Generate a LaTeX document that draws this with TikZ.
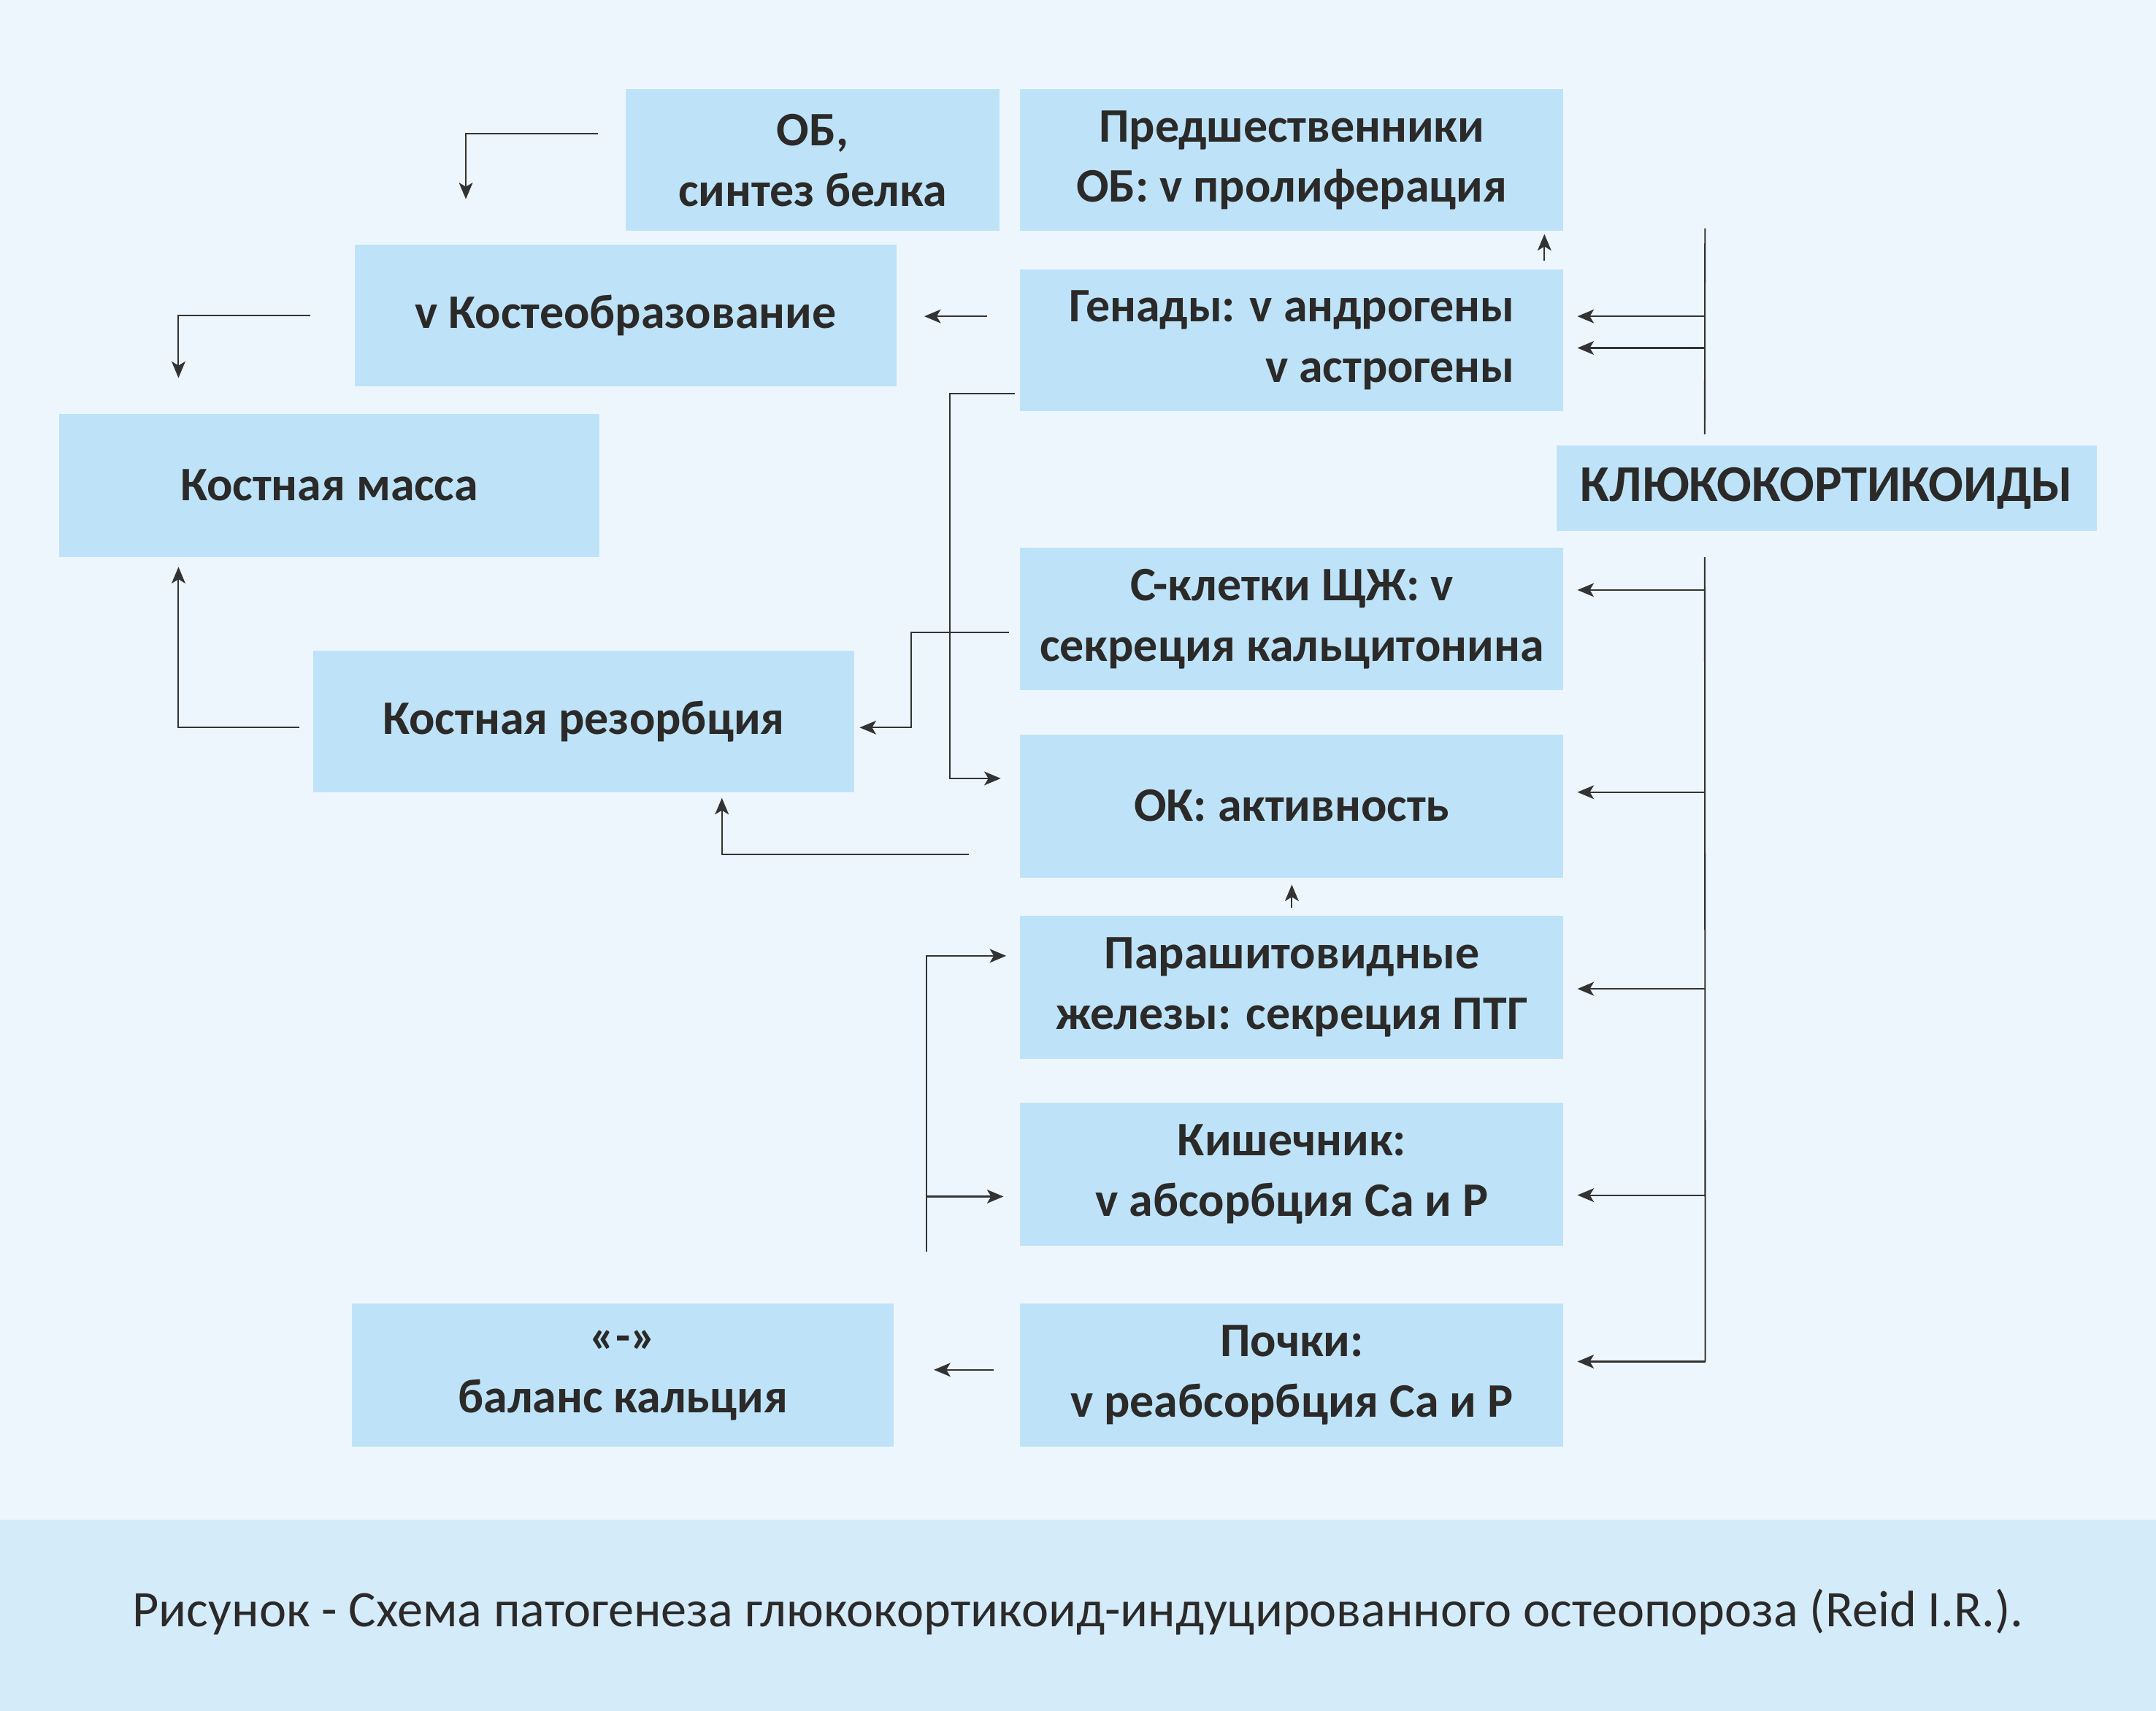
\documentclass[tikz,border=0pt]{standalone}
\usepackage{fontspec}
\setmainfont{Carlito}
\usetikzlibrary{arrows.meta,calc}
\definecolor{bgtop}{HTML}{EEF6FD}
\definecolor{bgcap}{HTML}{D4EBFA}
\definecolor{boxfill}{HTML}{BEE3F8}
\definecolor{ink}{HTML}{2B2A29}
\definecolor{lnc}{HTML}{333333}
\tikzset{
  box/.style={fill=boxfill, draw=none, inner sep=0pt, text=ink, align=center,
    font=\bfseries\fontsize{35}{44}\selectfont},
  ln/.style={draw=lnc, line width=1.1pt},
  arr/.style={ln, -{Stealth[length=12pt,width=10pt,inset=3pt]}},
}
\begin{document}
\begin{tikzpicture}[x=1pt,y=-1pt]
\useasboundingbox (0,0) rectangle (1568,1244);
\fill[bgtop] (0,0) rectangle (1568,1105);
\fill[bgcap] (0,1105) rectangle (1568,1244);

% boxes (centre, width, height)
\node[box, minimum width=272, minimum height=103] (ob) at (591,116.5) {ОБ,\\синтез белка};
\node[box, minimum width=395, minimum height=103] (pred) at (939.5,116.5) {Предшественники\\ОБ: v пролиферация};
\node[box, minimum width=394, minimum height=103] (kost) at (455,229.5) {v Костеобразование};
\node[box, minimum width=395, minimum height=103, align=right] (gen) at (939.5,247.5) {Генады: v андрогены\\v астрогены};
\node[box, minimum width=393, minimum height=104] (masa) at (239.5,353) {Костная масса};
\node[box, minimum width=393, minimum height=62, font=\bfseries\fontsize{37.5}{44}\selectfont] (kl) at (1328.5,355) {КЛЮКОКОРТИКОИДЫ};
\node[box, minimum width=395, minimum height=104] (sk) at (939.5,450) {С-клетки ЩЖ: v\\секреция кальцитонина};
\node[box, minimum width=393, minimum height=103] (rez) at (424.5,524.5) {Костная резорбция};
\node[box, minimum width=395, minimum height=104] (ok) at (939.5,586) {ОК: активность};
\node[box, minimum width=395, minimum height=104] (par) at (939.5,718) {Парашитовидные\\железы: секреция ПТГ};
\node[box, minimum width=395, minimum height=104] (kish) at (939.5,854) {Кишечник:\\v абсорбция Ca и P};
\node[box, minimum width=395, minimum height=104] (poch) at (939.5,1000) {Почки:\\v реабсорбция Ca и P};
\node[box, minimum width=394, minimum height=104] (bal) at (453,1000) {«-»\\баланс кальция};

\node[text=ink, font=\fontsize{37.3}{44}\selectfont] (cap) at (784,1172)
  {Рисунок - Схема патогенеза глюкокортикоид-индуцированного остеопороза (Reid I.R.).};

% left-side connectors
\draw[arr] ($(ob.west)+(-20,-19.5)$) -| ($(kost.north west)+(81,-33)$);
\draw[arr] ($(kost.west)+(-32,0)$) -| ($(masa.north west)+(87,-26)$);
\draw[arr] ($(rez.west)+(-10,4.5)$) -| ($(masa.south west)+(87,7)$);
\draw[arr] ($(gen.west)+(-24,-17.5)$) -- ($(kost.east)+(20,0.5)$);
\draw[arr] ($(gen.south west)+(-4,-13)$) -- ++(-47,0) |- ($(ok.west)+(-14,-20)$);
\draw[arr] ($(sk.west)+(-8,10)$) -- ++(-71,0) |- ($(rez.east)+(4,4.5)$);
\draw[arr] ($(ok.south west)+(-37,-17)$) -| ($(rez.south)+(100.5,4)$);
\draw[arr] ($(gen.north east)+(-14,-6)$) -- ($(pred.south east)+(-14,2)$);
\draw[arr] ($(par.north)+(0,-6)$) -- ($(ok.south)+(0,5)$);
\coordinate (lb) at (674,910);
\draw[arr] (lb) |- ($(par.west)+(-10,-23)$);
\draw[arr] ($(lb)+(0,-40)$) -- ($(kish.west)+(-12,16)$);
\draw[arr] ($(poch.west)+(-19,-4)$) -- ($(bal.east)+(29,-4)$);

% right bus from КЛЮКОКОРТИКОИДЫ
\coordinate (bt) at (1240,166);
\draw[ln] ($(kl.north west)+(108,-8)$) -- (bt);
\draw[arr] ($(gen.east)+(103,-17.5)$) -- ($(gen.east)+(10,-17.5)$);
\draw[arr] ($(gen.east)+(103,5.5)$) -- ($(gen.east)+(10,5.5)$);
\draw[ln] ($(kl.south west)+(108,19)$) -- ($(poch.east)+(103,-10)$);
\draw[arr] ($(sk.east)+(103,-21)$) -- ($(sk.east)+(10,-21)$);
\draw[arr] ($(ok.east)+(103,-10)$) -- ($(ok.east)+(10,-10)$);
\draw[arr] ($(par.east)+(103,1)$) -- ($(par.east)+(10,1)$);
\draw[arr] ($(kish.east)+(103,15)$) -- ($(kish.east)+(10,15)$);
\draw[arr] ($(poch.east)+(103,-10)$) -- ($(poch.east)+(10,-10)$);
\end{tikzpicture}
\end{document}
